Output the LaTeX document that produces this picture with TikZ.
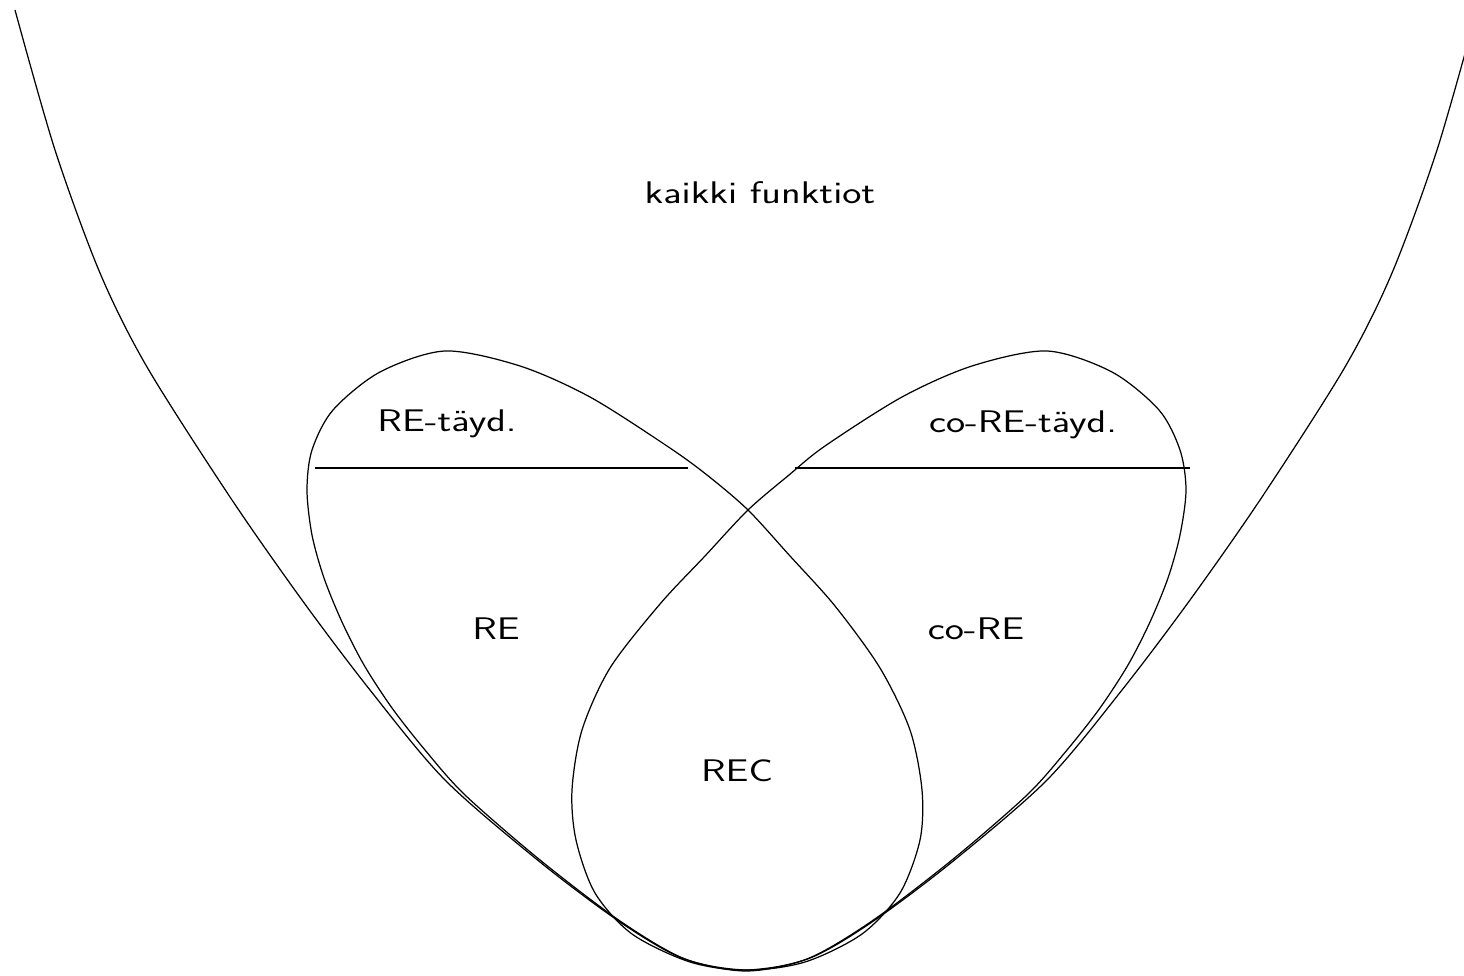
\documentclass[tikz,border=0pt]{standalone}
\usepackage{graphicx}
\tikzset{
  setline/.style={line width=.7pt},
  cutline/.style={line width=.9pt},
  lbl/.style={font=\sffamily\fontsize{17.8}{20}\selectfont,anchor=base,inner sep=0pt},
}
\newcommand{\widelbl}[1]{\scalebox{1.3}[1]{#1}}
\begin{document}
\begin{tikzpicture}[x=.02cm,y=-.02cm]
  \useasboundingbox (0,0) rectangle (1464,976);
  % kaikki funktiot
  \draw[setline] plot[smooth] coordinates {(15,10) (55,150) (100,273) (147,367) (230,497) (302,600) (370,690) (445,780) (540,862) (620,922) (682,958) (746,971) (810,958) (872,922) (952,862) (1047,780) (1122,690) (1190,600) (1262,497) (1345,367) (1392,273) (1437,150) (1477,10)};
  % RE
  \draw[setline] plot[smooth cycle] coordinates {(746,970) (805,962) (862,934) (900,893) (920,840) (922,790) (910,730) (880,668) (835,606) (790,556) (748,510) (707,475) (667,446) (590,397) (520,366) (445,351) (380,372) (333,410) (312,450) (307,490) (312,535) (324,578) (342,622) (364,665) (392,708) (425,750) (465,795) (540,860) (620,921) (685,959)};
  % co-RE
  \draw[setline] plot[smooth cycle] coordinates {(746,970) (690,962) (632,934) (595,893) (576,840) (572,790) (582,730) (610,668) (660,604) (705,556) (748,510) (789,475) (825,446) (902,397) (972,366) (1047,351) (1112,372) (1159,410) (1180,450) (1186,490) (1180,535) (1168,578) (1150,622) (1128,665) (1100,708) (1067,750) (1027,795) (952,860) (872,921) (807,959)};
  \coordinate (reA) at (315,468); \coordinate (reB) at (688,468);
  \coordinate (coA) at (795,468); \coordinate (coB) at (1190,468);
  \draw[cutline] (reA) -- (reB); \draw[cutline] (coA) -- (coB);
  \node[lbl] (all) at (760,204) {\widelbl{kaikki funktiot}};
  \node[lbl] (ret) at (447,432) {\widelbl{RE-täyd.}};
  \node[lbl] (cot) at (1023,433) {\widelbl{co-RE-täyd.}};
  \node[lbl] (re) at (496,639) {\widelbl{RE}};
  \node[lbl] (core) at (976,639) {\widelbl{co-RE}};
  \node[lbl] (rec) at (737,781) {\widelbl{REC}};
\end{tikzpicture}
\end{document}
